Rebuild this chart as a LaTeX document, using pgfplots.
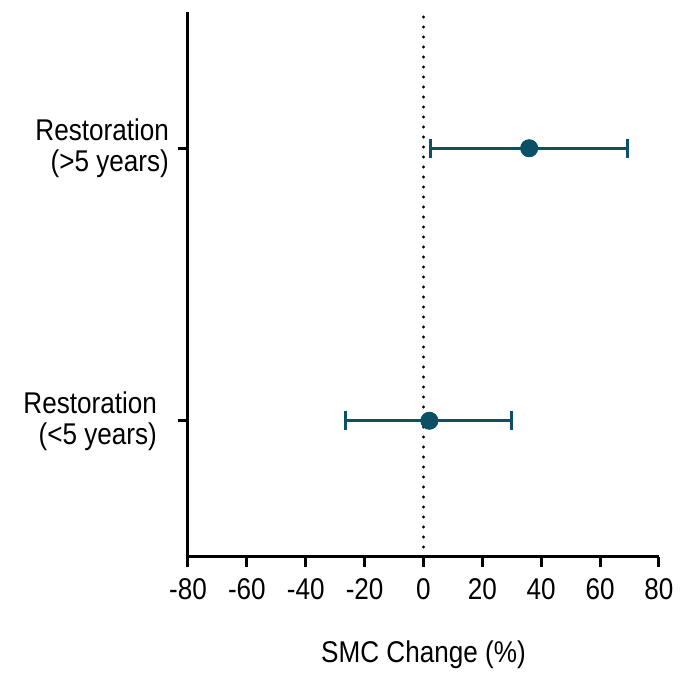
\documentclass[border=0pt]{standalone}
\usepackage{pgfplots}
\pgfplotsset{compat=1.18}
\usepackage{fontspec}
\setmainfont[FakeStretch=0.87]{Liberation Sans}
\definecolor{teal1}{HTML}{0B5064}
\begin{document}
\begin{tikzpicture}
\begin{axis}[
  scale only axis,
  width=235.5pt, height=272.5pt,
  xmin=-80, xmax=80, ymin=0.5, ymax=2.5,
  axis x line*=bottom, axis y line*=left,
  axis line style={line width=1.5pt, -},
  xtick={-80,-60,...,80},
  ytick={1,2},
  yticklabels={{Restoration\hspace*{6pt}\\(<5 years)\hspace*{6pt}},{Restoration\\(>5 years)}},
  yticklabel style={align=right, font=\fontsize{15}{15.5}\selectfont, xshift=-1pt},
  xticklabel style={font=\fontsize{15}{18}\selectfont, yshift=-2pt},
  /pgf/number format/assume math mode=true,
  tick align=outside,
  major tick length=5pt,
  tick style={line width=1.5pt, black},
  xlabel={SMC Change (\%)},
  xlabel style={font=\fontsize{15}{18}\selectfont, yshift=-14pt},
  clip=false,
]
\addplot[black, line width=1.6pt, dash pattern=on 0pt off 5pt, line cap=round] coordinates {(0,0.5) (0,2.5)};
\addplot[teal1, only marks, mark=*, mark size=4.3pt, mark options={fill=teal1, draw=teal1},
  error bars/.cd, x dir=both, x explicit,
  error bar style={line width=1.5pt, teal1},
  error mark options={rotate=90, mark size=4.75pt, line width=1.5pt, teal1}]
coordinates {
  (35.9,2) += (33.3,0) -= (33.4,0)
  (2.0,1) += (28.0,0) -= (28.4,0)
};
\path[use as bounding box] (axis cs:-80,0.5) ++(-94pt,-58pt) rectangle ++(345.5pt,336.5pt);
\end{axis}
\end{tikzpicture}
\end{document}
